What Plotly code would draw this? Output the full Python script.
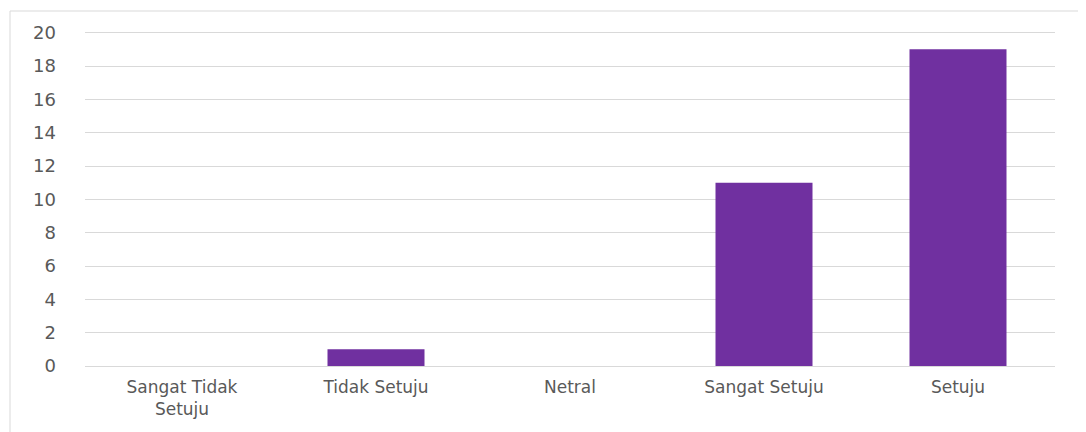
import plotly.graph_objects as go

categories = ["Sangat Tidak<br>Setuju", "Tidak Setuju", "Netral", "Sangat Setuju", "Setuju"]
values = [0, 1, 0, 11, 19]
y_ticks = list(range(0, 22, 2))
y_max = 20.4

# the page body has an 8px margin, so the figure is shifted by 8px
OFF = 8
W, H = 1086 - OFF, 432 - OFF
ml, mr, mb = 85 - OFF, 31, 66
mt = 18
pw, ph = W - ml - mr, H - mt - mb

fig = go.Figure(go.Bar(
    x=categories, y=values, marker_color="#7030A0", width=0.5,
    marker_line_width=0,
))

def px_x(x):
    return (x - OFF - ml) / pw

def px_y(y):
    return (H - mb - (y - OFF)) / ph

shapes = [
    dict(type="line", xref="paper", yref="paper", x0=px_x(10), x1=px_x(10),
         y0=px_y(11), y1=px_y(432), line=dict(color="#d9d9d9", width=1)),
    dict(type="line", xref="paper", yref="paper", x0=px_x(10), x1=px_x(1086),
         y0=px_y(11), y1=px_y(11), line=dict(color="#d9d9d9", width=1)),
]

fig.update_layout(
    width=W, height=H,
    margin=dict(l=ml, r=mr, t=mt, b=mb),
    plot_bgcolor="white", paper_bgcolor="white",
    font=dict(family="DejaVu Sans, Open Sans, sans-serif", size=17, color="#595959"),
    showlegend=False,
    shapes=shapes,
    xaxis=dict(showgrid=False, showline=False, ticks="", ticklabelstandoff=9,
               tickfont=dict(size=17, color="#595959")),
    yaxis=dict(range=[0, y_max], tickvals=y_ticks, showgrid=True, gridcolor="#d9d9d9",
               gridwidth=1, zeroline=True, zerolinecolor="#d9d9d9", zerolinewidth=1,
               showline=False, ticks="", ticklabelstandoff=28,
               tickfont=dict(size=18, color="#595959")),
)

fig.write_html("out.html")
